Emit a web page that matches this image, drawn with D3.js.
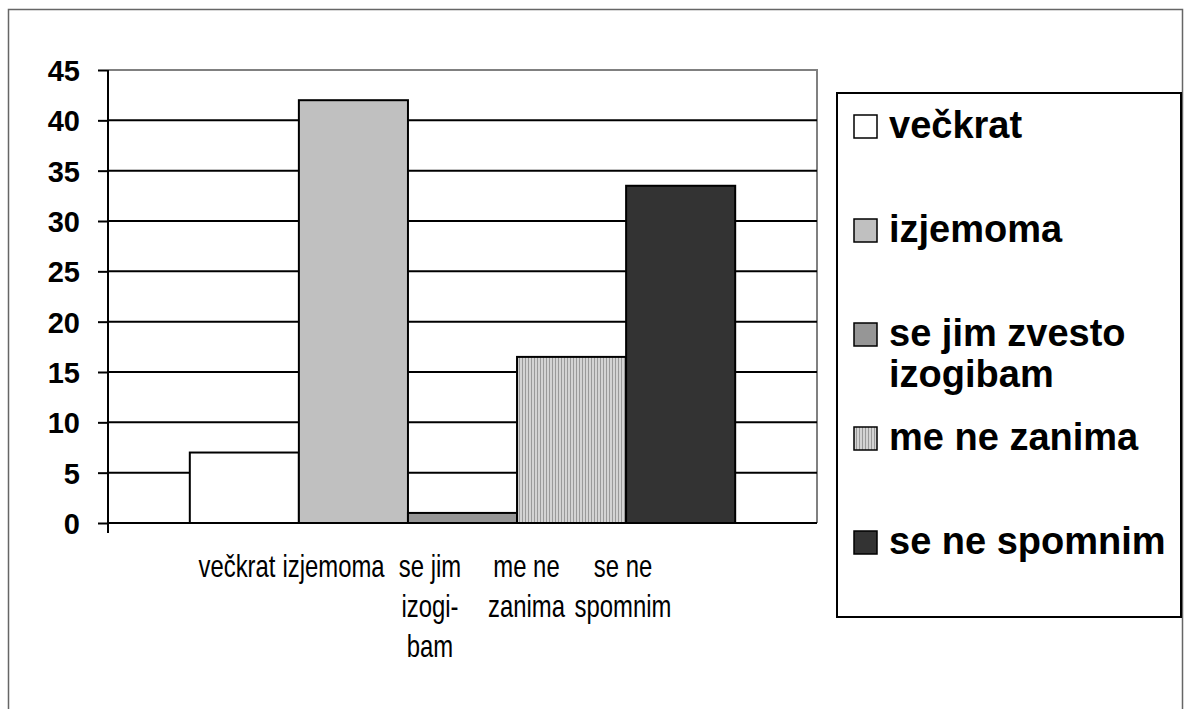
<!DOCTYPE html>
<html>
<head>
<meta charset="utf-8">
<script src="https://cdn.jsdelivr.net/npm/d3@7"></script>
<style>
  body { margin: 0; background: #fff; }
  text { font-family: "Liberation Sans", Arial, sans-serif; }
</style>
</head>
<body>
<div id="chart"></div>
<script>
// data
var categories = ["večkrat", "izjemoma", "se jim izogibam", "me ne zanima", "se ne spomnim"];
var values = [7, 42, 1, 16.5, 33.5];
var axisLabels = [["večkrat"], ["izjemoma"], ["se jim", "izogi-", "bam"], ["me ne", "zanima"], ["se ne", "spomnim"]];
var legendLabels = [["večkrat"], ["izjemoma"], ["se jim zvesto", "izogibam"], ["me ne zanima"], ["se ne spomnim"]];
var yTicks = [0, 5, 10, 15, 20, 25, 30, 35, 40, 45];

var fills = ["#ffffff", "#c0c0c0", "#969696", "url(#stripes)", "#333333"];

var W = 1192, H = 709;
var plot = { left: 108, right: 817, top: 70, bottom: 523 };

var svg = d3.select("#chart").append("svg")
  .attr("width", W).attr("height", H);

// stripe pattern for "me ne zanima"
var defs = svg.append("defs");
var pat = defs.append("pattern")
  .attr("id", "stripes")
  .attr("patternUnits", "userSpaceOnUse")
  .attr("width", 3).attr("height", 3);
pat.append("rect").attr("width", 3).attr("height", 3).attr("fill", "#d4d4d4");
pat.append("rect").attr("width", 1).attr("height", 3).attr("fill", "#9a9a9a");

// outer frame (open at bottom)
svg.append("path")
  .attr("d", "M8.5," + H + "V9.5H1182.5V" + H)
  .attr("fill", "none").attr("stroke", "#666").attr("stroke-width", 1.5);

var y = d3.scaleLinear().domain([0, 45]).range([plot.bottom, plot.top]);
var x = d3.scaleBand().domain(categories)
  .range([plot.left, plot.right])
  .paddingInner(0).paddingOuter(0.75);
var xl = d3.scalePoint().domain(categories).range([237, 623]);

// plot area border
svg.append("path")
  .attr("d", "M" + plot.left + "," + plot.top + "H" + plot.right + "V" + plot.bottom)
  .attr("fill", "none").attr("stroke", "#808080").attr("stroke-width", 2);

// gridlines
svg.append("g").selectAll("line")
  .data(yTicks.filter(function(d) { return d > 0 && d < 45; }))
  .join("line")
  .attr("x1", plot.left).attr("x2", plot.right)
  .attr("y1", function(d) { return y(d); }).attr("y2", function(d) { return y(d); })
  .attr("stroke", "#000").attr("stroke-width", 2);

// bars
svg.append("g").selectAll("rect")
  .data(values)
  .join("rect")
  .attr("x", function(d, i) { return x(categories[i]); })
  .attr("width", x.bandwidth())
  .attr("y", function(d) { return y(d); })
  .attr("height", function(d) { return y(0) - y(d); })
  .attr("fill", function(d, i) { return fills[i]; })
  .attr("stroke", "#000").attr("stroke-width", 2);

// y axis
var yAxis = svg.append("g")
  .attr("transform", "translate(" + plot.left + ",0)")
  .call(d3.axisLeft(y).tickValues(yTicks).tickSize(10).tickPadding(18));
yAxis.select(".domain").remove();
yAxis.selectAll(".tick line").attr("stroke", "#000").attr("stroke-width", 2);
yAxis.selectAll(".tick text")
  .style("font-size", "29px").style("font-weight", "bold")
  .attr("fill", "#000").attr("dy", "0.36em");
yAxis.append("line")
  .attr("x1", 0).attr("x2", 0).attr("y1", plot.top).attr("y2", plot.bottom + 10)
  .attr("stroke", "#000").attr("stroke-width", 2);

// x axis line
svg.append("line")
  .attr("x1", plot.left).attr("x2", plot.right)
  .attr("y1", plot.bottom).attr("y2", plot.bottom)
  .attr("stroke", "#000").attr("stroke-width", 2);

// category labels (narrow look)
var lab = svg.append("g").selectAll("g")
  .data(axisLabels)
  .join("g")
  .attr("transform", function(d, i) { return "translate(" + xl(categories[i]) + ",577) scale(0.77,1)"; });
lab.selectAll("text")
  .data(function(d) { return d; })
  .join("text")
  .attr("x", 0).attr("y", function(d, j) { return j * 40; })
  .attr("text-anchor", "middle")
  .style("font-size", "31px")
  .text(function(d) { return d; });

// legend
svg.append("rect")
  .attr("x", 837).attr("y", 93).attr("width", 344).attr("height", 524)
  .attr("fill", "#fff").attr("stroke", "#000").attr("stroke-width", 2);

var leg = svg.append("g").selectAll("g")
  .data(legendLabels)
  .join("g")
  .attr("transform", function(d, i) { return "translate(853," + (138 + i * 104) + ")"; });
leg.append("rect")
  .attr("x", 1).attr("y", -23).attr("width", 23).attr("height", 23)
  .attr("fill", function(d, i) { return fills[i]; })
  .attr("stroke", "#000").attr("stroke-width", 1.5);
leg.selectAll("text")
  .data(function(d) { return d; })
  .join("text")
  .attr("x", 36).attr("y", function(d, j) { return j * 41; })
  .style("font-size", "38px").style("font-weight", "bold")
  .text(function(d) { return d; });
</script>
</body>
</html>
